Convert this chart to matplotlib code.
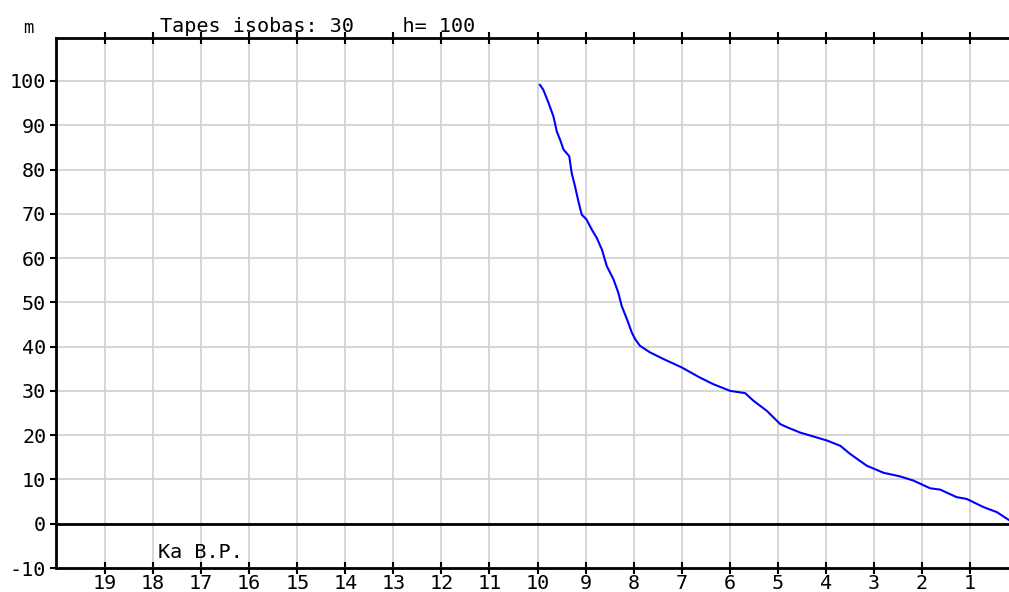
import matplotlib
matplotlib.use("Agg")
import matplotlib.pyplot as plt

# Data (Ka B.P. vs metres)
age_ka = [9.95, 9.88, 9.77, 9.67, 9.60, 9.53, 9.46, 9.34, 9.29, 9.22, 9.15, 9.08,
          8.98, 8.87, 8.77, 8.66, 8.56, 8.42, 8.32, 8.25, 8.14, 8.04, 7.97, 7.87,
          7.66, 7.38, 7.00, 6.62, 6.34, 5.99, 5.68, 5.51, 5.23, 4.95, 4.81, 4.54,
          4.26, 3.98, 3.70, 3.50, 3.15, 2.80, 2.46, 2.18, 1.83, 1.62, 1.28, 1.07,
          0.72, 0.44, 0.20]
height_m = [99.1, 98.0, 95.0, 92.0, 88.6, 86.7, 84.5, 83.0, 79.2, 76.2, 72.8, 69.8,
            68.7, 66.4, 64.6, 61.9, 58.2, 55.2, 52.2, 49.2, 46.2, 43.2, 41.7, 40.2,
            38.7, 37.2, 35.3, 33.0, 31.5, 30.0, 29.5, 27.8, 25.5, 22.5, 21.8, 20.6,
            19.7, 18.8, 17.6, 15.8, 13.1, 11.5, 10.7, 9.75, 8.0, 7.7, 6.0, 5.6,
            3.75, 2.6, 0.9]
x_ticks = list(range(19, 0, -1))
y_ticks = list(range(-10, 101, 10))
title_text = "Tapes isobas: 30    h= 100"

FONT = "DejaVu Sans Mono"
FS = 14.5

W, H = 1009, 592
fig = plt.figure(figsize=(W / 100, H / 100), dpi=100)
ax = fig.add_axes([56 / W, (H - 568) / H, (W - 56) / W, (568 - 38) / H])

ax.plot(age_ka, height_m, color="#0000ff", lw=1.5, zorder=3)
ax.axhline(0, color="black", lw=2, zorder=2)

ax.set_xlim(20.02, 0.19)
ax.set_ylim(-10, 109.7)
ax.set_xticks(x_ticks)
ax.set_yticks(y_ticks)
ax.set_xticklabels([str(v) for v in x_ticks], fontfamily=FONT, fontsize=FS)
ax.set_yticklabels([str(v) for v in y_ticks], fontfamily=FONT, fontsize=FS)
ax.grid(True, color="#d3d3d3", lw=1.3, zorder=0)
ax.set_axisbelow(True)

for s in ["left", "top", "bottom"]:
    ax.spines[s].set_linewidth(2)
    ax.spines[s].set_color("black")
ax.spines["right"].set_visible(False)

ax.tick_params(axis="x", which="both", direction="inout", length=8, width=1.5,
               top=True, bottom=True, labeltop=False, labelbottom=True, pad=0)
ax.tick_params(axis="y", direction="out", length=4, width=1.5, pad=3)

fig.text(28 / W, 1 - 28 / H, "m", fontfamily=FONT, fontsize=FS - 2,
         ha="center", va="center")
fig.text(160 / W, 1 - 26 / H, title_text, fontfamily=FONT, fontsize=FS,
         ha="left", va="center")
fig.text(158 / W, 1 - 552 / H, "Ka B.P.", fontfamily=FONT, fontsize=FS,
         ha="left", va="center")

fig.savefig("out.png", dpi=100)
